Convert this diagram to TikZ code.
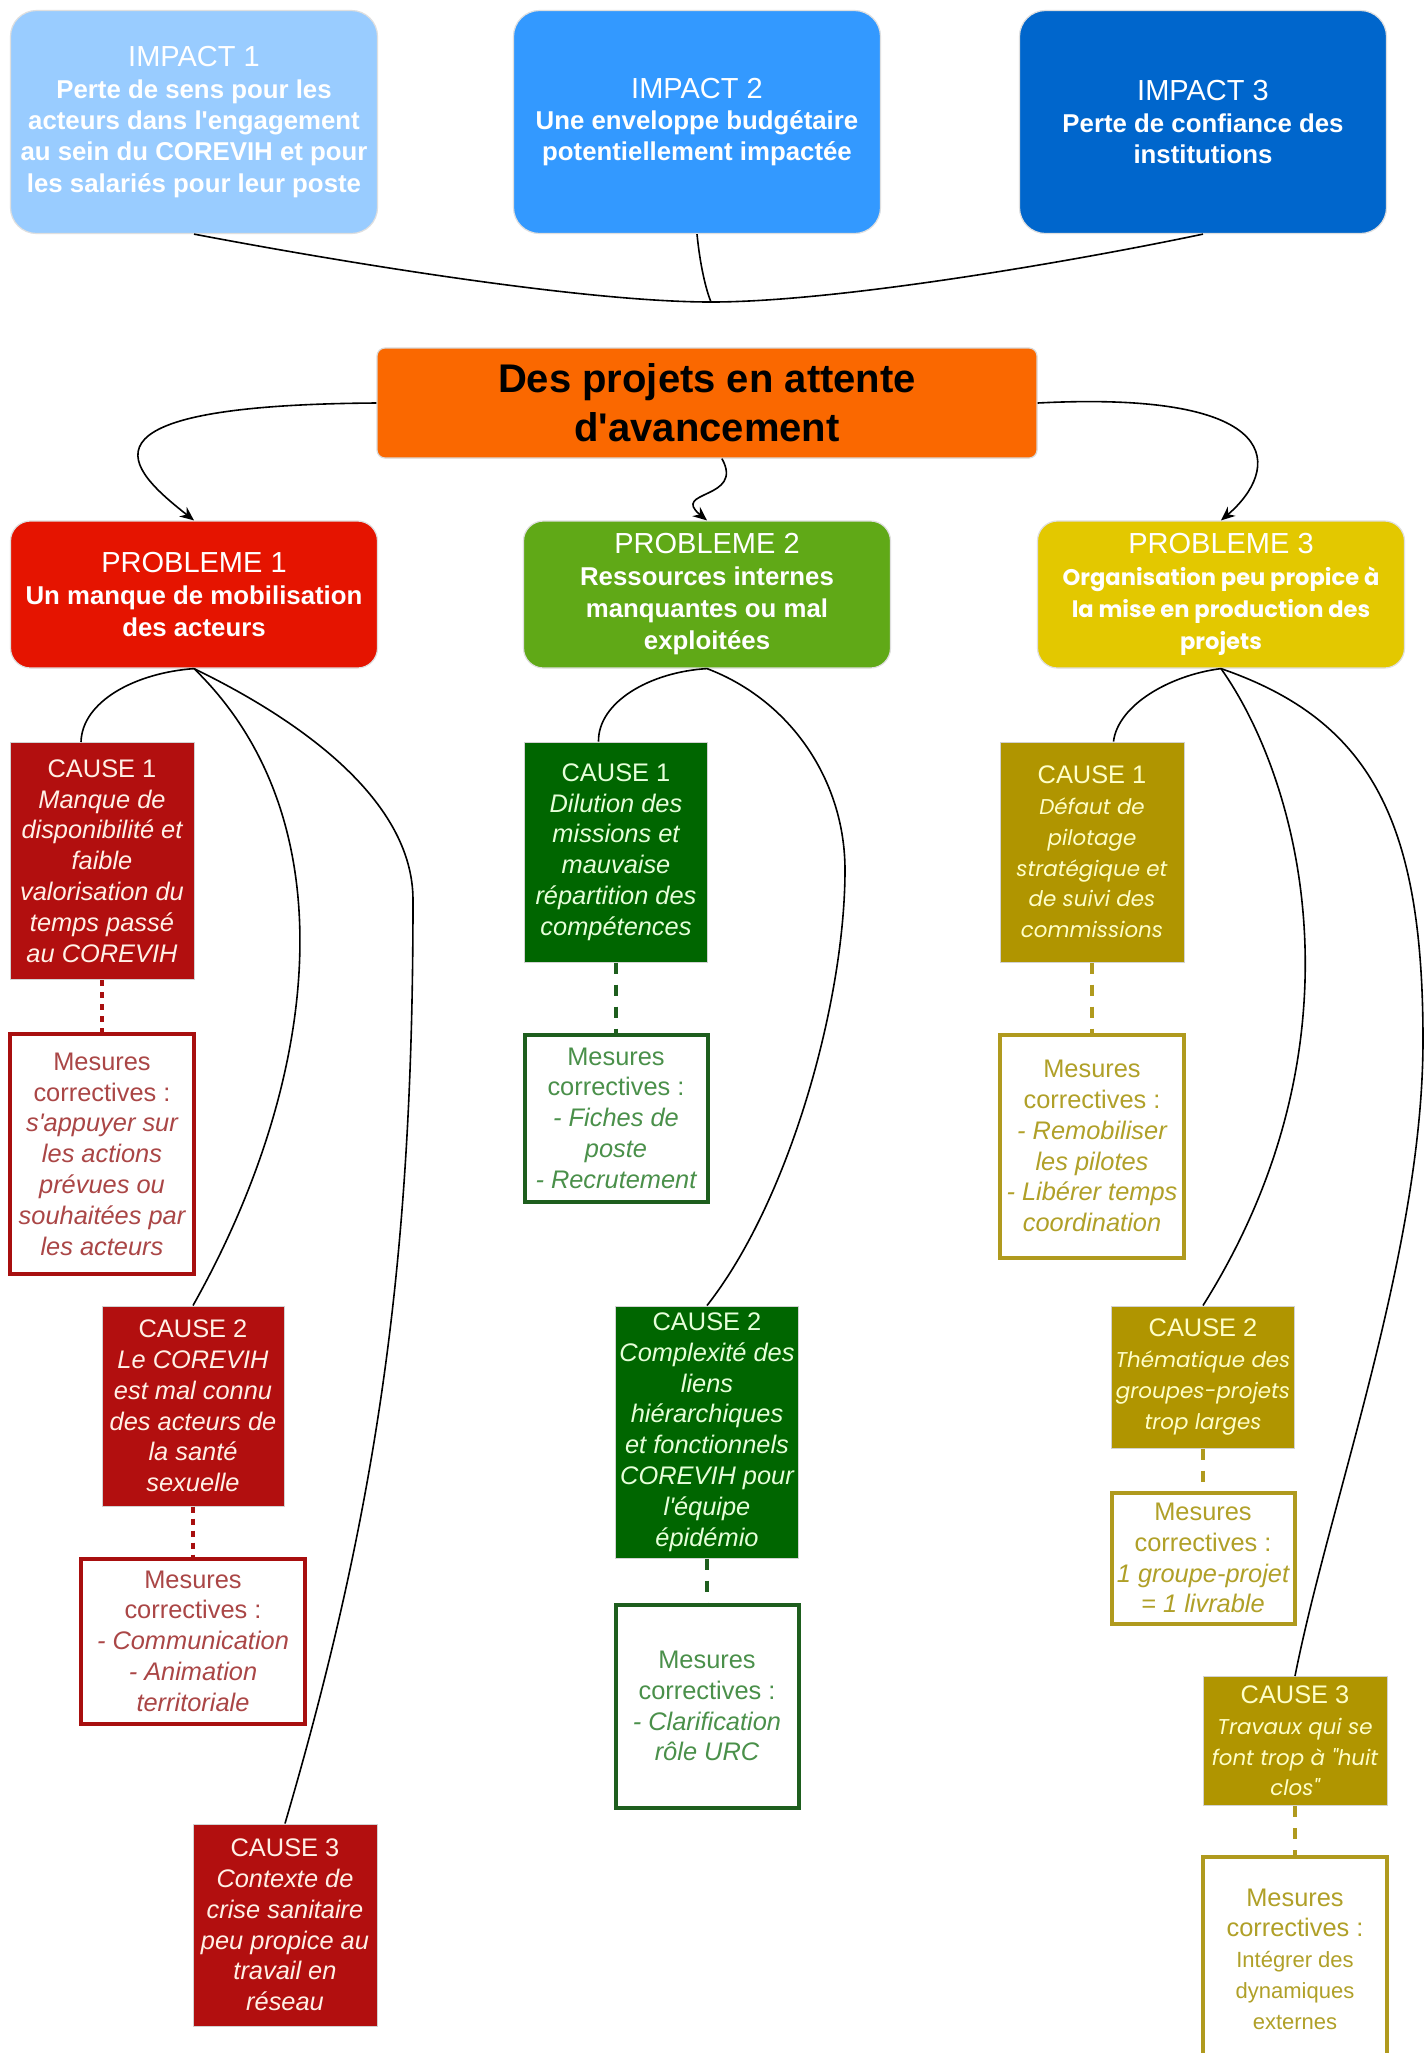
\documentclass[tikz,border=0pt]{standalone}
\usepackage{fontspec}
\setmainfont{Liberation Sans}[Ligatures=TeXOff]
\newfontfamily\gothicfont{Poppins}
\usetikzlibrary{arrows.meta}

\definecolor{impA}{HTML}{99CCFF}
\definecolor{impB}{HTML}{3399FF}
\definecolor{impC}{HTML}{0066CC}
\definecolor{orangeP}{HTML}{FA6800}
\definecolor{redP}{HTML}{E51400}
\definecolor{greenP}{HTML}{60A917}
\definecolor{yellowP}{HTML}{E3C800}
\definecolor{redC}{HTML}{B20F0F}
\definecolor{greenC}{HTML}{006600}
\definecolor{yellowC}{HTML}{B09500}
\definecolor{redL}{HTML}{FFF0E6}
\definecolor{greenL}{HTML}{E6FFD9}
\definecolor{yellowL}{HTML}{FFFFC8}
\definecolor{redD}{HTML}{A80F0F}
\definecolor{greenD}{HTML}{1E5E1E}
\definecolor{yellowD}{HTML}{B09A1E}
\definecolor{redT}{HTML}{AA4646}
\definecolor{greenT}{HTML}{4A904A}
\definecolor{yellowT}{HTML}{B0A028}

% en-tetes des boites
\newcommand{\hdA}[1]{{\normalfont\fontsize{14.5}{16}\selectfont #1}}
\newcommand{\hdB}[1]{{\normalfont\fontsize{12.7}{15.4}\selectfont #1}}

\begin{document}
\begin{tikzpicture}[
    x=0.5pt, y=0.5pt,
    IM/.style={rounded corners=13pt,draw=gray!25,line width=0.6pt,text=white,align=center,minimum width=183.5pt,minimum height=111.5pt,inner sep=1pt,font=\fontsize{12.9}{15.7}\selectfont\bfseries},
    PB/.style={rounded corners=10pt,draw=gray!25,line width=0.6pt,text=white,align=center,minimum width=183.5pt,minimum height=73.5pt,inner sep=1pt,font=\fontsize{12.9}{16}\selectfont\bfseries},
    CS/.style={draw=gray!35,line width=0.5pt,align=center,minimum width=92pt,inner sep=1pt,font=\fontsize{12.7}{15.4}\selectfont\itshape},
    CY/.style={CS,fill=yellowC,text=yellowL,font=\fontsize{10.7}{15.4}\gothicfont\itshape},
    MS/.style={fill=white,line width=2pt,align=center,minimum width=92pt,inner sep=1pt,font=\fontsize{12.7}{15.4}\selectfont\itshape},
    LL/.style={draw=black,line width=0.8pt},
    AR/.style={LL,-{Stealth[length=7pt,width=6pt]}},
    DL/.style={line width=2pt,dash pattern=on 3pt off 3pt},
    DS/.style={line width=2pt,dash pattern=on 5.5pt off 5.5pt}
    ]
    \useasboundingbox (0,0) rectangle (1426,-2053);
    \fill [white] (0,0) rectangle (1426,-2053);
    % impacts
    \node [IM,fill=impA] (I1) at (194,-122) {\hdA{IMPACT 1}\\Perte de sens pour les\\acteurs dans l'engagement\\au sein du COREVIH et pour\\les salariés pour leur poste};
    \node [IM,fill=impB] (I2) at (697,-122) {\hdA{IMPACT 2}\\Une enveloppe budgétaire\\potentiellement impactée};
    \node [IM,fill=impC] (I3) at (1203,-122) {\hdA{IMPACT 3}\\Perte de confiance des\\institutions};
    \coordinate (J) at (711,-302);
    \draw [LL] (I1.south) .. controls (330,-260) and (580,-302) .. (J);
    \draw [LL] (I3.south) .. controls (1080,-260) and (840,-302) .. (J);
    \draw [LL] (I2.south) .. controls (700,-265) and (706,-290) .. (J);
    % probleme central
    \node [rounded corners=4pt,fill=orangeP,draw=gray!30,line width=0.6pt,align=center,minimum width=330pt,minimum height=55pt,font=\fontsize{20}{24.5}\selectfont\bfseries] (O) at (707,-403) {Des projets en attente\\d'avancement};
    % problemes
    \node [PB,fill=redP] (P1) at (194,-594.5) {\hdA{PROBLEME 1}\\Un manque de mobilisation\\des acteurs};
    \node [PB,fill=greenP] (P2) at (707,-594.5) {\hdA{PROBLEME 2}\\Ressources internes\\manquantes ou mal\\exploitées};
    \node [PB,fill=yellowP,font=\fontsize{11.3}{16}\gothicfont\bfseries] (P3) at (1221,-594.5) {\hdA{PROBLEME 3}\\Organisation peu propice à\\la mise en production des\\projets};
    \draw [AR] (O.west) .. controls (60,-405) and (130,-470) .. (P1.north);
    \draw [AR] (O.-75) .. controls (745,-500) and (670,-490) .. (P2.north);
    \draw [AR] (O.east) .. controls (1290,-390) and (1280,-470) .. (P3.north);
    % causes du probleme 1
    \node [CS,fill=redC,text=redL,minimum height=118.5pt] (C11) at (102,-861) {\hdB{CAUSE 1}\\Manque de\\disponibilité et\\faible\\valorisation du\\temps passé\\au COREVIH};
    \node [MS,draw=redD,text=redT,minimum height=120pt] (M11) at (102,-1154) {\hdB{Mesures}\\\hdB{correctives :}\\s'appuyer sur\\les actions\\prévues ou\\souhaitées par\\les acteurs};
    \node [CS,fill=redC,text=redL,minimum width=91pt,minimum height=100pt] (C12) at (193,-1406) {\hdB{CAUSE 2}\\Le COREVIH\\est mal connu\\des acteurs de\\la santé\\sexuelle};
    \node [MS,draw=redD,text=redT,minimum width=112pt,minimum height=82.5pt] (M12) at (193,-1641) {\hdB{Mesures}\\\hdB{correctives :}\\- Communication\\- Animation\\territoriale};
    \node [CS,fill=redC,text=redL,minimum height=101pt] (C13) at (285,-1925) {\hdB{CAUSE 3}\\Contexte de\\crise sanitaire\\peu propice au\\travail en\\réseau};
    \draw [LL] (P1.south) .. controls (134,-673) and (82,-702) .. (C11.100);
    \draw [LL] (P1.south) .. controls (350,-820) and (320,-1080) .. (C12.north);
    \draw [LL] (P1.south) .. controls (300,-720) and (413,-800) .. (413,-900) .. controls (413,-1250) and (380,-1500) .. (C13.north);
    \draw [DL,redD] (C11.south) -- (M11.north);
    \draw [DL,redD] (C12.south) -- (M12.north);
    % causes du probleme 2
    \node [CS,fill=greenC,text=greenL,minimum width=91.5pt,minimum height=110pt] (C21) at (616,-852) {\hdB{CAUSE 1}\\Dilution des\\missions et\\mauvaise\\répartition des\\compétences};
    \node [MS,draw=greenD,text=greenT,minimum width=91.5pt,minimum height=83.5pt] (M21) at (616,-1118) {\hdB{Mesures}\\\hdB{correctives :}\\- Fiches de\\poste\\- Recrutement};
    \node [CS,fill=greenC,text=greenL,minimum width=91.5pt,minimum height=126pt] (C22) at (707,-1432) {\hdB{CAUSE 2}\\Complexité des\\liens\\hiérarchiques\\et fonctionnels\\COREVIH pour\\l'équipe\\épidémio};
    \node [MS,draw=greenD,text=greenT,minimum width=91.5pt,minimum height=101.5pt] (M22) at (707,-1706) {\hdB{Mesures}\\\hdB{correctives :}\\- Clarification\\rôle URC};
    \draw [LL] (P2.south) .. controls (650,-672) and (598,-702) .. (C21.99);
    \draw [LL] (P2.south) .. controls (790,-700) and (845,-780) .. (845,-870) .. controls (845,-1000) and (790,-1200) .. (C22.north);
    \draw [DS,greenD] (C21.south) -- (M21.north);
    \draw [DS,greenD] (C22.south) -- (M22.north);
    % causes du probleme 3
    \node [CY,minimum height=110pt] (C31) at (1092,-852) {\hdB{CAUSE 1}\\Défaut de\\pilotage\\stratégique et\\de suivi des\\commissions};
    \node [MS,draw=yellowD,text=yellowT,minimum height=111.5pt] (M31) at (1092,-1146) {\hdB{Mesures}\\\hdB{correctives :}\\- Remobiliser\\les pilotes\\- Libérer temps\\coordination};
    \node [CY,minimum width=91.5pt,minimum height=71pt] (C32) at (1203,-1377) {\hdB{CAUSE 2}\\Thématique des\\groupes-projets\\trop larges};
    \node [MS,draw=yellowD,text=yellowT,minimum width=91.5pt,minimum height=65.5pt] (M32) at (1203,-1558) {\hdB{Mesures}\\\hdB{correctives :}\\1 groupe-projet\\= 1 livrable};
    \node [CY,minimum height=64.5pt] (C33) at (1295,-1741) {\hdB{CAUSE 3}\\Travaux qui se\\font trop à "huit\\clos"};
    \node [MS,draw=yellowD,text=yellowT,minimum height=102pt,font=\fontsize{11}{15.4}\selectfont] (M33) at (1295,-1959) {\hdB{Mesures}\\\hdB{correctives :}\\Intégrer des\\dynamiques\\externes};
    \draw [LL] (P3.south) .. controls (1170,-675) and (1118,-705) .. (C31.79);
    \draw [LL] (P3.south) .. controls (1300,-780) and (1370,-1040) .. (C32.north);
    \draw [LL] (P3.south) .. controls (1370,-720) and (1423,-820) .. (1423,-1040) .. controls (1423,-1250) and (1330,-1500) .. (C33.north);
    \draw [DS,yellowD] (C31.south) -- (M31.north);
    \draw [DS,yellowD] (C32.south) -- (M32.north);
    \draw [DS,yellowD] (C33.south) -- (M33.north);
\end{tikzpicture}
\end{document}
